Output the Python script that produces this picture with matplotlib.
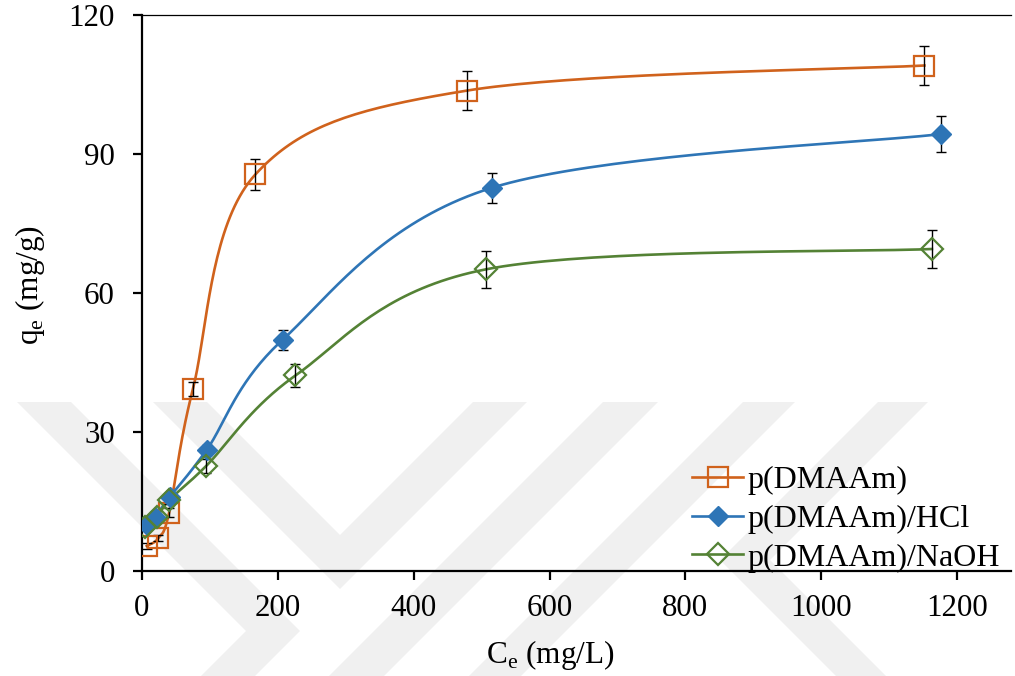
import numpy as np
import matplotlib
matplotlib.use("Agg")
import matplotlib.pyplot as plt
from matplotlib.lines import Line2D
from matplotlib.patches import Polygon
from matplotlib.transforms import Affine2D

plt.rcParams['font.family'] = ['Liberation Serif', 'DejaVu Serif']
plt.rcParams['mathtext.fontset'] = 'custom'
plt.rcParams['mathtext.rm'] = 'Liberation Serif'

# equilibrium data: Ce (mg/L), qe (mg/g), error (mg/g)
ce_plain = [7, 24, 40, 75, 167, 479, 1152]
qe_plain = [5.4, 7.1, 12.6, 39.3, 85.6, 103.7, 109.1]
err_plain = [0.6, 0.7, 1.0, 1.6, 3.4, 4.2, 4.3]

ce_hcl = [7, 19, 41, 95, 207, 515, 1176]
qe_hcl = [9.9, 11.7, 16.0, 26.1, 49.9, 82.7, 94.3]
err_hcl = [0.5, 0.6, 0.8, 1.0, 2.2, 3.3, 3.8]

ce_naoh = [4, 22, 40, 94, 226, 506, 1163]
qe_naoh = [9.6, 11.7, 15.3, 22.6, 42.2, 65.1, 69.5]
err_naoh = [0.5, 0.6, 0.8, 1.5, 2.5, 4.0, 4.2]

labels = ['p(DMAAm)', 'p(DMAAm)/HCl', 'p(DMAAm)/NaOH']
colors = ['#D0621C', '#2E75B6', '#548235']


def smooth(x, y, n=40):
    # Catmull-Rom curve through the points, written as cubic Bezier pieces
    p = np.column_stack([x, y]).astype(float)
    p = np.vstack([p[0], p, p[-1]])
    t = np.linspace(0, 1, n)[:, None]
    segs = []
    for i in range(1, len(p) - 2):
        p0, p1, p2, p3 = p[i - 1], p[i], p[i + 1], p[i + 2]
        c1 = p1 + (p2 - p0) / 6
        c2 = p2 - (p3 - p1) / 6
        segs.append((1 - t) ** 3 * p1 + 3 * (1 - t) ** 2 * t * c1
                    + 3 * (1 - t) * t ** 2 * c2 + t ** 3 * p2)
    s = np.vstack(segs)
    return s[:, 0], s[:, 1]


fig = plt.figure(figsize=(10.15, 6.76), dpi=100)

# faint background stamp, in pixel units, kept behind the axes
px = Affine2D().scale(1 / 1015, -1 / 676).translate(0, 1) + fig.transFigure
stamp = [
    [(17, 402), (71, 402), (300, 631), (255, 676), (201, 676), (246, 631)],
    [(153, 402), (207, 402), (340, 535), (473, 402), (527, 402), (340, 589)],
    [(603, 402), (658, 402), (384, 676), (329, 676)],
    [(743, 402), (795, 402), (521, 676), (469, 676)],
    [(878, 402), (928, 402), (770, 560), (886, 676), (836, 676), (720, 560)],
]
for pts in stamp:
    fig.add_artist(Polygon(pts, closed=True, facecolor='#f0f0f0',
                           edgecolor='none', transform=px, zorder=-5))

ax = fig.add_axes([0.1399, 0.1553, 0.8565, 0.8225])
ax.patch.set_alpha(0)

series = [
    (ce_plain, qe_plain, err_plain, 's', 'none', 15, 1.6),
    (ce_hcl, qe_hcl, err_hcl, 'D', colors[1], 10.5, 1.0),
    (ce_naoh, qe_naoh, err_naoh, 'D', 'none', 11, 1.6),
]
handles = []
for (x, y, e, m, fc, ms, mew), c, lab in zip(series, colors, labels):
    sx, sy = smooth(x, y)
    ax.plot(sx, sy, color=c, lw=1.9, zorder=2)
    ax.errorbar(x, y, yerr=e, fmt='none', ecolor='black', elinewidth=1.0,
                capsize=3.5, capthick=1.0, zorder=3)
    ax.plot(x, y, linestyle='none', marker=m, markersize=ms,
            markerfacecolor=fc, markeredgecolor=c, markeredgewidth=mew, zorder=4)
    handles.append(Line2D([], [], color=c, lw=1.9, marker=m, markersize=ms,
                          markerfacecolor=fc, markeredgecolor=c,
                          markeredgewidth=mew))

ax.set_xlim(0, 1280)
ax.set_ylim(0, 120)
ax.set_xticks(range(0, 1201, 200))
ax.set_yticks(range(0, 121, 30))

for side in ['left', 'bottom']:
    ax.spines[side].set_linewidth(1.6)
ax.spines['top'].set_linewidth(0.9)
ax.spines['right'].set_visible(False)

ax.tick_params(axis='both', direction='out', length=6.5, width=1.6,
               labelsize=22.3, colors='black')
ax.tick_params(axis='x', pad=10)
ax.tick_params(axis='y', pad=13)

ax.set_xlabel('C$_\\mathregular{e}$ (mg/L)', fontsize=22.5)
ax.set_ylabel('q$_\\mathregular{e}$ (mg/g)', fontsize=22.5)
ax.xaxis.set_label_coords(0.470, -0.151)
ax.xaxis.label.set_va('center')
ax.yaxis.set_label_coords(-0.129, 0.514)
ax.yaxis.label.set_va('center')

fig.legend(handles, labels, loc='center left',
           bbox_to_anchor=(692 / 1015, 1 - 519 / 676), frameon=False,
           fontsize=23, handlelength=1.6, handletextpad=0.15,
           labelspacing=0.3, borderpad=0, borderaxespad=0, numpoints=1)

fig.savefig('out.png', dpi=100)
